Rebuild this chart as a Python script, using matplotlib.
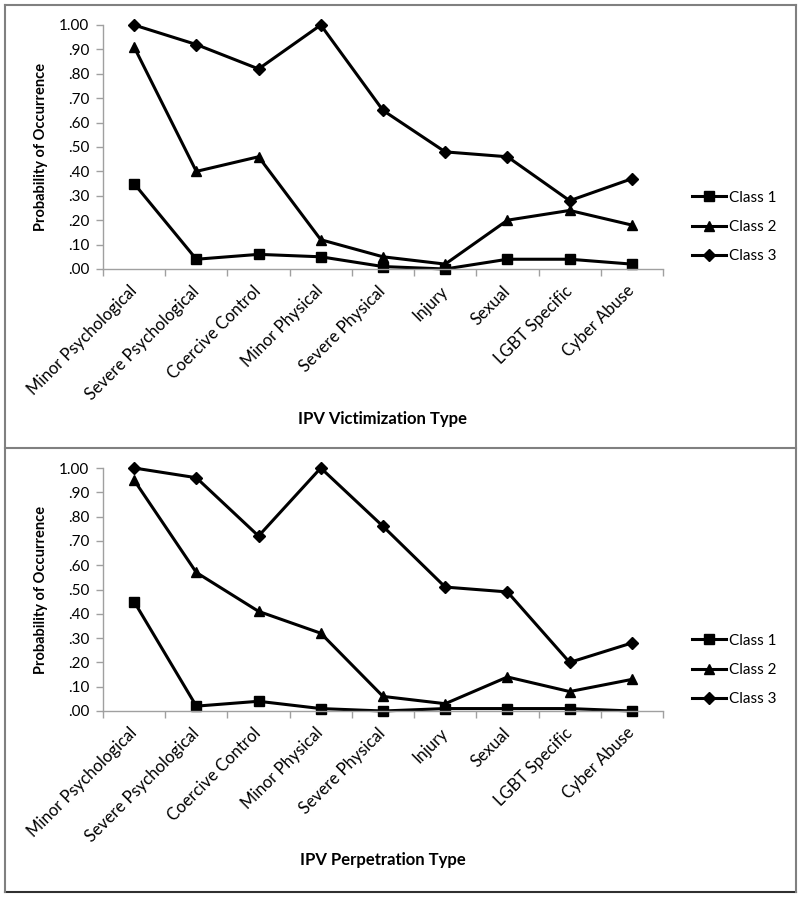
import matplotlib
matplotlib.use("Agg")
import matplotlib.pyplot as plt
from matplotlib.lines import Line2D

plt.rcParams['font.family'] = ['Lato', 'DejaVu Sans']

## Data
categories = ["Minor Psychological", "Severe Psychological", "Coercive Control",
              "Minor Physical", "Severe Physical", "Injury", "Sexual",
              "LGBT Specific", "Cyber Abuse"]
class_names = ["Class 1", "Class 2", "Class 3"]

victim_class1 = [.35, .04, .06, .05, .01, .00, .04, .04, .02]
victim_class2 = [.91, .40, .46, .12, .05, .02, .20, .24, .18]
victim_class3 = [1.00, .92, .82, 1.00, .65, .48, .46, .28, .37]

perp_class1 = [.45, .02, .04, .01, .00, .01, .01, .01, .00]
perp_class2 = [.95, .57, .41, .32, .06, .03, .14, .08, .13]
perp_class3 = [1.00, .96, .72, 1.00, .76, .51, .49, .20, .28]

y_ticks = [i / 10 for i in range(11)]
y_tick_labels = ["1.00" if t == 1 else f"{t:.2f}"[1:] for t in y_ticks]

markers = ["s", "^", "D"]
msizes = [7.5, 7.5, 6]
W, H = 800, 898


def draw_panel(fig, rect, series, xlabel, label_y, legend_y):
    ax = fig.add_axes(rect)
    xs = list(range(len(categories)))
    handles = []
    for vals, name, m, ms in zip(series, class_names, markers, msizes):
        h, = ax.plot(xs, vals, color="black", lw=2.2, marker=m, ms=ms,
                     label=name, clip_on=False)
        handles.append(h)
    ax.set_xlim(-0.5, len(categories) - 0.5)
    ax.set_ylim(0, 1)
    ax.set_yticks(y_ticks)
    ax.set_yticklabels(y_tick_labels, fontsize=11)
    ax.set_xticks([i - 0.5 for i in range(len(categories) + 1)])
    ax.set_xticklabels([])
    ax.set_xticks(xs, minor=True)
    ax.set_xticklabels(categories, minor=True, rotation=45, ha="right",
                       va="center", rotation_mode="anchor", fontsize=12)
    ax.tick_params(axis="x", which="minor", length=0, pad=14)
    ax.tick_params(axis="both", which="major", length=5, color="#a0a0a0",
                   width=1)
    ax.tick_params(axis="y", pad=5)
    for s in ["top", "right"]:
        ax.spines[s].set_visible(False)
    for s in ["left", "bottom"]:
        ax.spines[s].set_color("#a0a0a0")
        ax.spines[s].set_linewidth(1)
    ax.set_ylabel("Probability of Occurrence", fontsize=10.5, fontweight="bold",
                  labelpad=8)
    ax.set_xlabel(xlabel, fontsize=12, fontweight="bold")
    ax.xaxis.set_label_coords(0.5, label_y)
    fig.legend(handles=handles, loc="center left", frameon=False,
               bbox_to_anchor=(686 / W, legend_y), fontsize=11,
               handlelength=2.2, handletextpad=0.2, labelspacing=1.0,
               borderaxespad=0)
    return ax


fig = plt.figure(figsize=(W / 100, H / 100), dpi=100)

top = draw_panel(fig, [103 / W, 1 - 269 / H, 560 / W, 244 / H],
                 [victim_class1, victim_class2, victim_class3],
                 "IPV Victimization Type", -0.582, 1 - 227 / H)
bot = draw_panel(fig, [103 / W, 1 - 711 / H, 560 / W, 243 / H],
                 [perp_class1, perp_class2, perp_class3],
                 "IPV Perpetration Type", -0.580, 1 - 670 / H)

# panel borders
def hline(y, x0=5, x1=796, c="#808080", lw=1.5):
    fig.add_artist(Line2D([x0 / W, x1 / W], [1 - y / H, 1 - y / H],
                          color=c, lw=lw))

def vline(x, y0, y1, c="#808080", lw=1.5):
    fig.add_artist(Line2D([x / W, x / W], [1 - y0 / H, 1 - y1 / H],
                          color=c, lw=lw))

hline(5)
hline(448)
hline(892, c="#303030")
vline(5, 5, 892)
vline(796, 5, 892)

fig.savefig("out.png", dpi=100)
